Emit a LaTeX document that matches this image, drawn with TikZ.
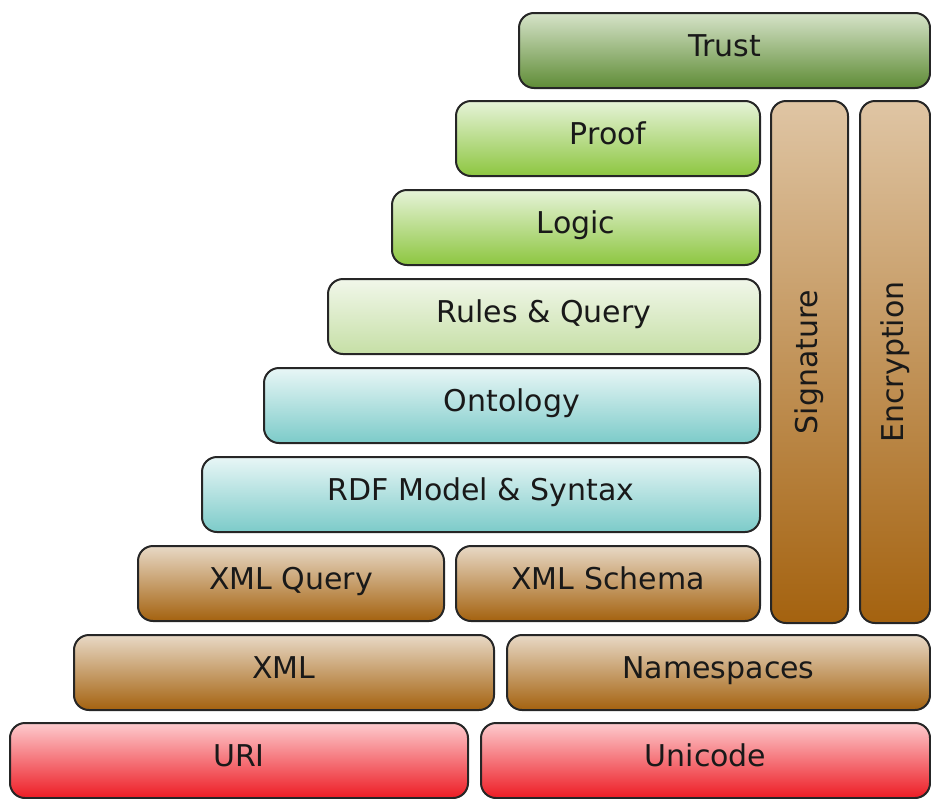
\documentclass[tikz,border=0pt]{standalone}
\usepackage{fontspec}
\setmainfont{DejaVu Sans}

\definecolor{trustTop}{HTML}{D6E3C9}
\definecolor{trustBot}{HTML}{5F8C36}
\definecolor{logicTop}{HTML}{E6F3D8}
\definecolor{logicBot}{HTML}{8DC640}
\definecolor{rulesTop}{HTML}{F1F7EA}
\definecolor{rulesBot}{HTML}{C6DFA6}
\definecolor{ontoTop}{HTML}{E8F6F6}
\definecolor{ontoBot}{HTML}{7CCBC9}
\definecolor{xmlTop}{HTML}{E8D9C6}
\definecolor{xmlBot}{HTML}{A4620F}
\definecolor{secTop}{HTML}{DFC5A4}
\definecolor{uriTop}{HTML}{FDCBCE}
\definecolor{uriBot}{HTML}{ED1C24}

\begin{document}
\begin{tikzpicture}[x=0.5pt, y=-0.5pt,
        box/.style={draw=black!85, line width=1pt, rounded corners=7.5pt, anchor=north west,
                    inner sep=0pt, text=black!90, font=\fontsize{15}{18}\selectfont},
        layer/.style={box, minimum height=37.5pt, text height=11pt, text depth=5pt},
        trust/.style={layer, top color=trustTop, bottom color=trustBot},
        logic/.style={layer, top color=logicTop, bottom color=logicBot},
        rules/.style={layer, top color=rulesTop, bottom color=rulesBot},
        onto/.style={layer, top color=ontoTop, bottom color=ontoBot},
        xml/.style={layer, top color=xmlTop, bottom color=xmlBot},
        sec/.style={box, top color=secTop, bottom color=xmlBot, minimum height=261pt},
        uri/.style={layer, top color=uriTop, bottom color=uriBot}]

            \useasboundingbox (0,0) rectangle (931,798);

            \node[trust, minimum width=205.5pt] (Trust) at (518, 12) {Trust};
            \node[logic, minimum width=152pt] (Proof) at (455, 100) {Proof};
            \node[logic, minimum width=184pt] (Logic) at (391, 189) {Logic};
            \node[rules, minimum width=216pt] (Rules) at (327, 278) {Rules \& Query};
            \node[onto, minimum width=248pt] (Ontology) at (263, 367) {Ontology};
            \node[onto, minimum width=279pt] (RDF) at (201, 456) {RDF Model \& Syntax};

            \node[xml, minimum width=153pt] (XMLQuery) at (137, 545) {XML Query};
            \node[xml, minimum width=152pt] (XMLSchema) at (455, 545) {XML Schema};
            \node[xml, minimum width=210pt] (XML) at (73, 634) {XML};
            \node[xml, minimum width=211.5pt] (Namespaces) at (506, 634) {Namespaces};
            \node[uri, minimum width=229pt] (URI) at (9, 722) {URI};
            \node[uri, minimum width=224.5pt] (Unicode) at (480, 722) {Unicode};

            \node[sec, minimum width=38.5pt] (Signature) at (770, 100) {\rotatebox{90}{Signature}};
            \node[sec, minimum width=35pt] (Encryption) at (859, 100) {\rotatebox{90}{Encryption}};
        \end{tikzpicture}
\end{document}
